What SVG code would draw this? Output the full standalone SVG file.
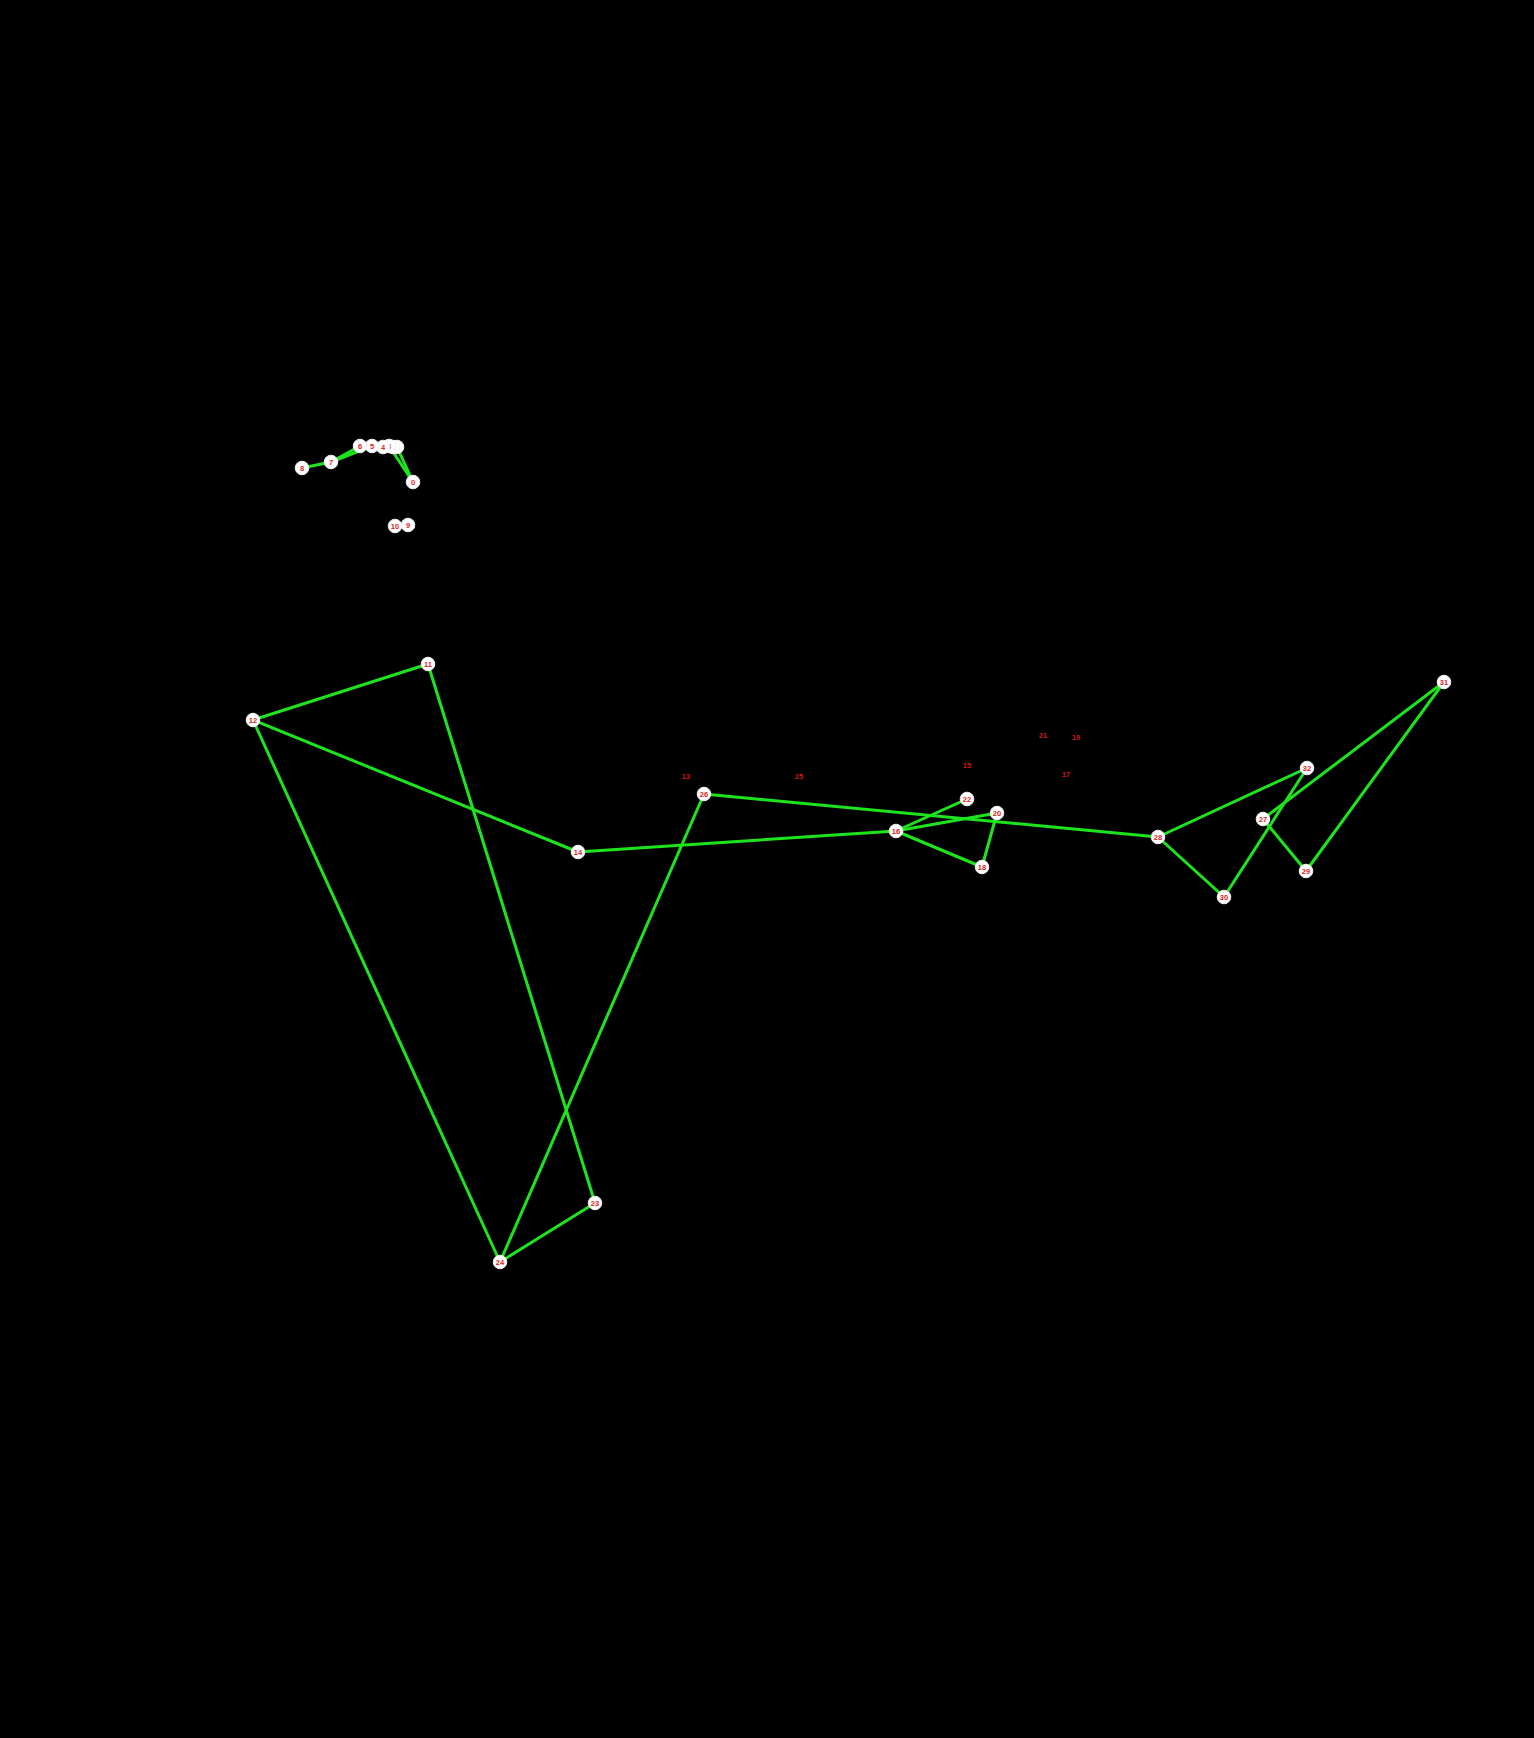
<svg xmlns="http://www.w3.org/2000/svg" width="1534" height="1738" viewBox="0 0 1534 1738">
<style>
.e{stroke:#1ee41e;stroke-width:3;fill:none;stroke-linecap:round}
.n circle{fill:#ffffff;stroke:#f0f0f0;stroke-width:1}
.n text,.l{font-family:"Liberation Sans",Arial,sans-serif;font-size:7.5px;font-weight:bold;fill:#e02020;text-anchor:middle;dominant-baseline:central}
.l{fill:#d01818}
</style>
<rect width="1534" height="1738" fill="#000"/>
<g id="connectors">
<line class="e" x1="302" y1="468" x2="331" y2="462"/>
<line class="e" x1="331" y1="462" x2="360" y2="446"/>
<line class="e" x1="331" y1="462" x2="372" y2="446"/>
<line class="e" x1="413" y1="482" x2="389" y2="446"/>
<line class="e" x1="413" y1="482" x2="397" y2="447"/>
<line class="e" x1="428" y1="664" x2="253" y2="720"/>
<line class="e" x1="428" y1="664" x2="595" y2="1203"/>
<line class="e" x1="253" y1="720" x2="578" y2="852"/>
<line class="e" x1="253" y1="720" x2="500" y2="1262"/>
<line class="e" x1="500" y1="1262" x2="595" y2="1203"/>
<line class="e" x1="500" y1="1262" x2="704" y2="794"/>
<line class="e" x1="578" y1="852" x2="896" y2="831"/>
<line class="e" x1="704" y1="794" x2="1158" y2="837"/>
<line class="e" x1="896" y1="831" x2="967" y2="799"/>
<line class="e" x1="896" y1="831" x2="997" y2="813"/>
<line class="e" x1="896" y1="831" x2="982" y2="867"/>
<line class="e" x1="982" y1="867" x2="997" y2="813"/>
<line class="e" x1="1158" y1="837" x2="1307" y2="768"/>
<line class="e" x1="1158" y1="837" x2="1224" y2="897"/>
<line class="e" x1="1224" y1="897" x2="1307" y2="768"/>
<line class="e" x1="1263" y1="819" x2="1444" y2="682"/>
<line class="e" x1="1263" y1="819" x2="1306" y2="871"/>
<line class="e" x1="1306" y1="871" x2="1444" y2="682"/>
</g>
<g id="node-0" class="n"><circle cx="413" cy="482" r="6.8"/><text x="413" y="482">0</text></g>
<g id="node-1" class="n"><circle cx="397" cy="447" r="6.8"/><text x="397" y="447">1</text></g>
<g id="node-2" class="n"><circle cx="393" cy="447" r="6.8"/><text x="393" y="447">2</text></g>
<g id="node-3" class="n"><circle cx="389" cy="446" r="6.8"/><text x="389" y="446">3</text></g>
<g id="node-4" class="n"><circle cx="383" cy="447" r="6.8"/><text x="383" y="447">4</text></g>
<g id="node-5" class="n"><circle cx="372" cy="446" r="6.8"/><text x="372" y="446">5</text></g>
<g id="node-6" class="n"><circle cx="360" cy="446" r="6.8"/><text x="360" y="446">6</text></g>
<g id="node-7" class="n"><circle cx="331" cy="462" r="6.8"/><text x="331" y="462">7</text></g>
<g id="node-8" class="n"><circle cx="302" cy="468" r="6.8"/><text x="302" y="468">8</text></g>
<g id="node-9" class="n"><circle cx="408" cy="525" r="6.8"/><text x="408" y="525">9</text></g>
<g id="node-10" class="n"><circle cx="395" cy="526" r="6.8"/><text x="395" y="526">10</text></g>
<g id="node-11" class="n"><circle cx="428" cy="664" r="6.8"/><text x="428" y="664">11</text></g>
<g id="node-12" class="n"><circle cx="253" cy="720" r="6.8"/><text x="253" y="720">12</text></g>
<g id="node-13"><text class="l" x="686" y="776">13</text></g>
<g id="node-14" class="n"><circle cx="578" cy="852" r="6.8"/><text x="578" y="852">14</text></g>
<g id="node-15"><text class="l" x="967" y="765">15</text></g>
<g id="node-16" class="n"><circle cx="896" cy="831" r="6.8"/><text x="896" y="831">16</text></g>
<g id="node-17"><text class="l" x="1066" y="774">17</text></g>
<g id="node-18" class="n"><circle cx="982" cy="867" r="6.8"/><text x="982" y="867">18</text></g>
<g id="node-19"><text class="l" x="1076" y="737">19</text></g>
<g id="node-20" class="n"><circle cx="997" cy="813" r="6.8"/><text x="997" y="813">20</text></g>
<g id="node-21"><text class="l" x="1043" y="735">21</text></g>
<g id="node-22" class="n"><circle cx="967" cy="799" r="6.8"/><text x="967" y="799">22</text></g>
<g id="node-23" class="n"><circle cx="595" cy="1203" r="6.8"/><text x="595" y="1203">23</text></g>
<g id="node-24" class="n"><circle cx="500" cy="1262" r="6.8"/><text x="500" y="1262">24</text></g>
<g id="node-25"><text class="l" x="799" y="776">25</text></g>
<g id="node-26" class="n"><circle cx="704" cy="794" r="6.8"/><text x="704" y="794">26</text></g>
<g id="node-27" class="n"><circle cx="1263" cy="819" r="6.8"/><text x="1263" y="819">27</text></g>
<g id="node-28" class="n"><circle cx="1158" cy="837" r="6.8"/><text x="1158" y="837">28</text></g>
<g id="node-29" class="n"><circle cx="1306" cy="871" r="6.8"/><text x="1306" y="871">29</text></g>
<g id="node-30" class="n"><circle cx="1224" cy="897" r="6.8"/><text x="1224" y="897">30</text></g>
<g id="node-31" class="n"><circle cx="1444" cy="682" r="6.8"/><text x="1444" y="682">31</text></g>
<g id="node-32" class="n"><circle cx="1307" cy="768" r="6.8"/><text x="1307" y="768">32</text></g>
</svg>
